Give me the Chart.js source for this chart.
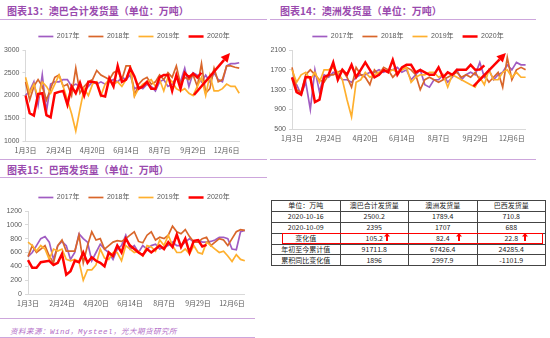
<!DOCTYPE html>
<html>
<head>
<meta charset="utf-8">
<script src="https://cdn.jsdelivr.net/npm/chart.js@4.4.0/dist/chart.umd.min.js"></script>
<style>
  body { margin: 0; width: 550px; height: 338px; background: #fff; position: relative; overflow: hidden; font-family: "Noto Sans CJK SC", sans-serif; }
  .title { position: absolute; font-size: 10px; font-weight: bold; color: #9a4aae; line-height: 12px; white-space: nowrap; }
  .rule { position: absolute; height: 0; border-top: 1.5px solid #cda6dc; }
  .box { position: absolute; }
  #tbl { position: absolute; left: 271px; top: 200px; width: 275px; border-collapse: collapse; table-layout: fixed; font-size: 7px; color: #222; }
  #tbl td { border: 0.8px solid #444; height: 9.9px; padding: 0; text-align: center; line-height: 9px; white-space: nowrap; }
  #hl { position: absolute; left: 282px; top: 233px; width: 259px; height: 9px; border: 1.5px solid #ff0000; }
  .up { position: absolute; line-height: 0; }
  .up svg { display: block; }
  #src { position: absolute; left: 10px; top: 325px; font-size: 7.5px; letter-spacing: 0.5px; font-style: italic; color: #b46fc8; font-family: "Liberation Mono", "Noto Sans CJK SC", monospace; white-space: nowrap; }
</style>
</head>
<body>

<div class="title" style="left:7px;top:5px">图表13：澳巴合计发货量（单位：万吨）</div>
<div class="rule" style="left:0;top:19px;width:267px"></div>
<div class="title" style="left:280px;top:5px">图表14：澳洲发货量（单位：万吨）</div>
<div class="rule" style="left:270px;top:19px;width:266px"></div>
<div class="rule" style="left:0;top:159px;width:267px"></div>
<div class="rule" style="left:270px;top:159px;width:266px"></div>
<div class="title" style="left:7px;top:164px">图表15：巴西发货量（单位：万吨）</div>
<div class="rule" style="left:0;top:177px;width:267px"></div>
<div class="rule" style="left:0;top:318px;width:255px"></div>
<div class="rule" style="left:0;top:337px;width:255px"></div>
<div id="src">资料来源：Wind，Mysteel，光大期货研究所</div>

<div class="box" style="left:0;top:22px"><canvas id="c13" width="268" height="136"></canvas></div>
<div class="box" style="left:268px;top:22px"><canvas id="c14" width="280" height="125"></canvas></div>
<div class="box" style="left:0;top:180px"><canvas id="c15" width="268" height="131"></canvas></div>

<table id="tbl"></table>
<div id="hl"></div>

<script>
// 周度数据，每年52周；2020年截至10月16日
var weekCount = 52;
var tickLabels = ['1月3日', '2月24日', '4月20日', '6月14日', '8月7日', '9月29日', '12月6日'];
var seriesNames = ['2017年', '2018年', '2019年', '2020年'];
var colors = ['#a05cc2', '#d9662a', '#ffb02e', '#ff0000'];

// 图表13 澳巴合计
var total2017 = [2000,2100,2300,1800,2450,1650,2250,2300,2300,2350,2350,2200,2250,2200,2100,2200,2300,2250,2300,2250,2300,2350,2300,2400,2350,2450,2150,2200,2150,2250,2200,2100,2300,2350,2200,2250,2400,2300,2600,2200,2500,2450,2300,2450,2300,2500,2350,2300,2650,2700,2700,2720];
var total2018 = [2300,1900,2200,2350,2200,1900,2150,2400,2450,2200,2250,2000,2600,2050,2200,2300,2350,2550,2450,2400,2350,2500,2550,2350,2650,2650,2000,2250,2350,2400,2250,2300,2450,2350,2500,2400,2650,2250,2400,2350,2450,2200,2700,2050,2150,2600,2300,2350,2650,2650,2620,2600];
var total2019 = [2400,2050,2250,1950,2300,2200,2050,2250,2450,2200,1900,1600,1220,1700,2150,2000,2250,2300,2000,2250,2350,2250,2300,2200,2350,2600,1980,2150,2250,2300,2350,2200,2350,2100,2400,2300,2150,2100,2150,2050,2000,2200,2400,2000,2450,2100,2100,2150,2250,2200,2200,2050];
var total2020 = [2000,1610,1560,2030,2050,1570,1520,2050,2080,2100,1800,2200,2050,2280,2000,2300,2300,2280,2000,1980,2380,2200,2650,2300,2350,2600,2420,2150,2200,2300,2150,2150,2400,2450,2450,2100,2450,2150,2500,2400,2480,2395,2500.2];

// 图表14 澳洲
var aus2017 = [1550,1400,1200,1450,900,1700,1250,1600,1550,1650,1600,1500,1500,1450,1550,1600,1600,1650,1650,1700,1650,1700,1700,1750,1650,1700,1500,1600,1700,1400,1350,1500,1500,1600,1450,1550,1700,1500,1600,1650,1600,1850,1550,1700,1500,1600,1650,1800,1700,1850,1800,1800];
var aus2018 = [1750,1300,1250,1600,1700,1600,1500,1450,1600,1600,1650,1700,1550,1350,1750,1600,1550,1400,1700,1600,1750,1700,1550,1650,1700,1750,1700,1600,1300,1500,1550,1500,1450,1500,1550,1600,1650,1550,1600,1550,1650,1500,1600,1450,1550,1650,1350,1950,1500,1700,1750,1700];
var aus2019 = [1700,1450,1600,1650,1500,1650,1450,1700,1700,1750,1650,1500,1100,750,1450,1500,1650,1550,1600,1650,1700,1650,1700,1650,1700,1750,1450,1550,1600,1600,1650,1650,1550,1600,1350,1600,1550,1500,1450,1400,1350,1550,1400,1700,1500,1500,1650,1700,1550,1650,1550,1550];
var aus2020 = [1550,1250,1200,1550,1550,1050,1100,1550,1600,1850,1500,1700,1600,1800,1550,1700,1850,1700,1550,1600,1700,1650,1900,1600,1750,1800,1800,1650,1700,1650,1600,1600,1750,1550,1650,1600,1700,1700,1700,1800,1700,1707,1789.4];

// 图表15 巴西
var bra2017 = [540,600,700,800,830,750,500,700,760,700,500,600,870,800,750,480,600,720,650,600,500,650,700,850,650,700,600,700,650,700,720,650,680,700,750,700,700,750,800,750,780,750,750,760,780,820,820,800,650,640,900,920];
var bra2018 = [540,700,600,650,700,550,450,700,780,620,620,620,850,450,700,900,780,800,650,700,750,770,760,800,850,900,760,740,850,900,780,820,800,850,980,900,870,930,830,750,750,800,820,700,750,800,780,700,800,900,930,920];
var bra2019 = [750,700,620,700,650,500,650,620,650,500,480,500,470,200,350,350,420,650,520,500,600,600,480,700,650,600,620,550,700,680,620,780,700,850,700,600,600,650,580,700,600,580,750,700,650,600,620,550,470,570,500,480];
var bra2020 = [490,380,380,460,470,480,420,450,580,280,330,480,460,600,450,530,480,450,400,600,550,700,600,800,700,650,600,560,650,600,650,700,650,750,680,860,680,800,600,770,780,688,710.8];

// 表格
var tableHead = ['单位：万吨', '澳巴合计发货量', '澳洲发货量', '巴西发货量'];
var rowNames = ['2020-10-16', '2020-10-09', '变化值', '年初至今累计值', '累积同比变化值'];
var colTotal = ['2500.2', '2395', '105.2', '91711.8', '1896'];
var colAus = ['1789.4', '1707', '82.4', '67426.4', '2997.9'];
var colBra = ['710.8', '688', '22.8', '24285.4', '-1101.9'];

var weeks = [];
for (var i = 0; i < weekCount; i++) weeks.push('W' + (i + 1));

var trendArrow = {
    id: 'trendArrow',
    afterDatasetsDraw: function (chart, args, opts) {
        if (!opts.from) return;
        var xs = chart.scales.x, ys = chart.scales.y;
        var x1 = xs.getPixelForValue(opts.from[0]), y1 = ys.getPixelForValue(opts.from[1]);
        var x2 = xs.getPixelForValue(opts.to[0]), y2 = ys.getPixelForValue(opts.to[1]);
        var ang = Math.atan2(y2 - y1, x2 - x1);
        var head = 9, half = 4.5;
        var bx = x2 - head * Math.cos(ang), by = y2 - head * Math.sin(ang);
        var ctx = chart.ctx;
        ctx.save();
        ctx.strokeStyle = '#ff0000';
        ctx.fillStyle = '#ff0000';
        ctx.lineWidth = 2.5;
        ctx.beginPath();
        ctx.moveTo(x1, y1);
        ctx.lineTo(bx, by);
        ctx.stroke();
        ctx.beginPath();
        ctx.moveTo(x2, y2);
        ctx.lineTo(bx + half * Math.sin(ang), by - half * Math.cos(ang));
        ctx.lineTo(bx - half * Math.sin(ang), by + half * Math.cos(ang));
        ctx.closePath();
        ctx.fill();
        ctx.restore();
    }
};

function makeChart(id, data, yMin, yMax, yStep, arrow, geo) {
    var sets = data.map(function (d, k) {
        return {
            label: seriesNames[k],
            data: d,
            borderColor: colors[k],
            backgroundColor: colors[k],
            borderWidth: k === 3 ? 2.5 : 1.7,
            order: 3 - k
        };
    });
    return new Chart(document.getElementById(id), {
        type: 'line',
        data: { labels: weeks, datasets: sets },
        plugins: [trendArrow],
        options: {
            responsive: false,
            animation: false,
            events: [],
            layout: { padding: { left: 0, right: 0, top: geo.top, bottom: 0 } },
            elements: { point: { radius: 0 }, line: { tension: 0 } },
            plugins: {
                tooltip: { enabled: false },
                trendArrow: arrow || {},
                legend: {
                    position: 'top',
                    labels: {
                        usePointStyle: true,
                        pointStyle: 'line',
                        pointStyleWidth: 15,
                        boxHeight: 7,
                        padding: 9,
                        color: '#595959',
                        font: { size: 7, family: 'Liberation Sans, Noto Sans CJK SC' },
                        sort: function (a, b) { return a.datasetIndex - b.datasetIndex; }
                    }
                }
            },
            scales: {
                x: {
                    afterFit: function (s) { s.height = geo.xh; },
                    grid: { display: false, drawTicks: false },
                    border: { color: '#d9d9d9', width: 1 },
                    ticks: {
                        autoSkip: false,
                        maxRotation: 0,
                        padding: 5,
                        color: '#595959',
                        font: { size: 7, family: 'Noto Sans CJK SC' },
                        callback: function (v, idx) { return idx % 8 === 0 ? tickLabels[idx / 8] : ''; }
                    }
                },
                y: {
                    min: yMin,
                    max: yMax,
                    afterFit: function (s) { s.width = geo.yw; },
                    grid: { drawOnChartArea: false, drawTicks: true, tickLength: 3, color: '#d9d9d9' },
                    border: { color: '#d9d9d9', width: 1 },
                    ticks: {
                        stepSize: yStep,
                        padding: 3,
                        color: '#595959',
                        font: { size: 7, family: 'Liberation Sans' },
                        callback: function (v) { return String(v); }
                    }
                },
                // 右侧空白占位轴，让图例在整块画布上居中
                pad: {
                    type: 'linear',
                    position: 'right',
                    afterFit: function (s) { s.width = geo.right; },
                    grid: { display: false },
                    border: { display: false },
                    ticks: { display: false }
                }
            }
        }
    });
}

makeChart('c13', [total2017, total2018, total2019, total2020], 1000, 3000, 500,
    { from: [40.2, 2011], to: [48.8, 2934] }, { yw: 25.5, right: 28.8, top: 2, xh: 17 });
makeChart('c14', [aus2017, aus2018, aus2019, aus2020], 500, 2100, 200,
    { from: [39.6, 1366], to: [46.7, 2040] }, { yw: 24, right: 22.4, top: 2, xh: 17.7 });
makeChart('c15', [bra2017, bra2018, bra2019, bra2020], 0, 1200, 200,
    null, { yw: 28, right: 23.2, top: 5, xh: 17 });

// 表格
var tbl = document.getElementById('tbl');
var html = '<tr>' + tableHead.map(function (h) { return '<td>' + h + '</td>'; }).join('') + '</tr>';
rowNames.forEach(function (r, i) {
    html += '<tr><td>' + r + '</td><td>' + colTotal[i] + '</td><td>' + colAus[i] + '</td><td>' + colBra[i] + '</td></tr>';
});
tbl.innerHTML = html;

// 变化值旁的红色上箭头
[387, 459, 525].forEach(function (x) {
    var d = document.createElement('div');
    d.className = 'up';
    d.style.left = (x - 3) + 'px';
    d.style.top = '233px';
    d.innerHTML = '<svg width="6" height="8"><polygon points="3,0 6,3.5 4,3.5 4,8 2,8 2,3.5 0,3.5" fill="#ff0000"/></svg>';
    document.body.appendChild(d);
});
</script>
</body>
</html>
